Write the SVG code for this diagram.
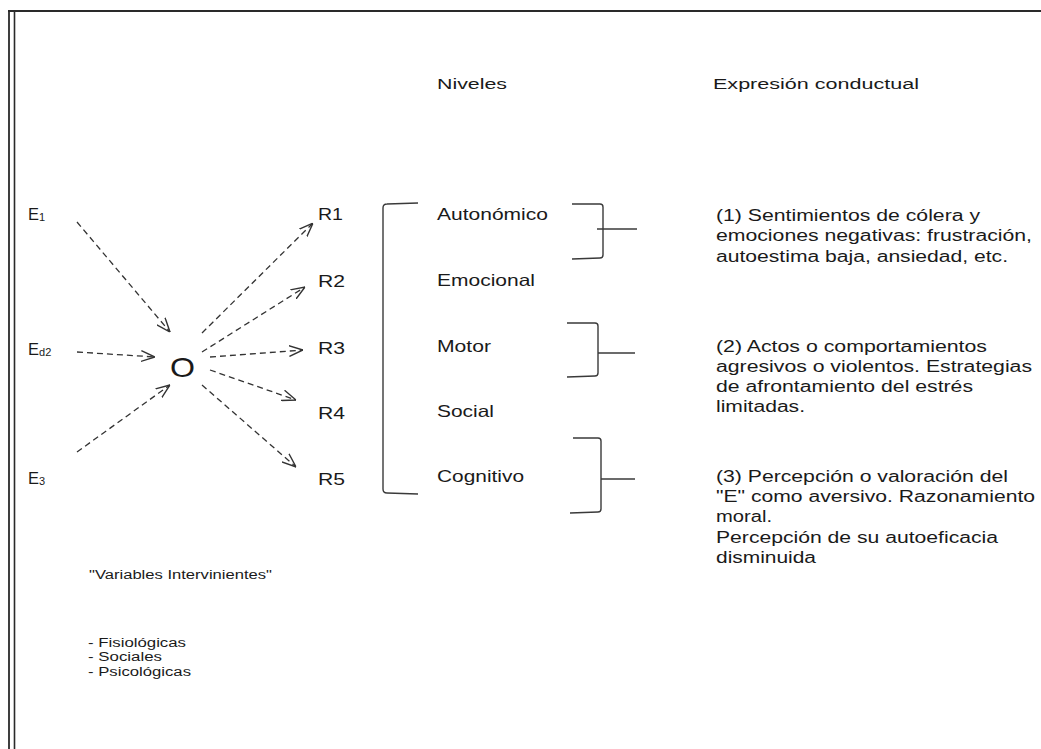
<svg xmlns="http://www.w3.org/2000/svg" width="1041" height="749" viewBox="0 0 1041 749">
<style>
text{font-family:"Liberation Sans",Arial,sans-serif;fill:#1a1a1a}
.frame{stroke:#2a2a2a;fill:none}
.conn{stroke:#333;stroke-width:1.3;stroke-dasharray:6 4;fill:none}
.br{stroke:#3a3a3a;stroke-width:1.4;fill:none}
.lvl{font-size:16.5px}
.lab{font-size:16.5px}
.expr{font-size:16px}
.small{font-size:12.5px}
.hdr{font-size:14px}
</style>
<defs>
<marker id="ah" viewBox="0 0 13 11" refX="13" refY="5.5" markerWidth="14" markerHeight="12" markerUnits="userSpaceOnUse" orient="auto">
<path d="M0,0.5 L13,5.5 L0,10.5" fill="none" stroke="#333" stroke-width="1.3"/>
</marker>
</defs>
<rect width="1041" height="749" fill="#fff"/>
<g id="frame">
<line class="frame" x1="8" y1="11" x2="1041" y2="11" stroke-width="2"/>
<line class="frame" x1="9" y1="10" x2="9" y2="749" stroke-width="1.8"/>
<line class="frame" x1="14.5" y1="12" x2="14.5" y2="749" stroke-width="1.6"/>
</g>
<g id="headers">
<text class="hdr" x="437" y="89" textLength="70" lengthAdjust="spacingAndGlyphs">Niveles</text>
<text class="hdr" x="713" y="89" textLength="206" lengthAdjust="spacingAndGlyphs">Expresión conductual</text>
</g>
<g id="connectors">
<line class="conn" x1="77" y1="222" x2="170" y2="332" marker-end="url(#ah)"/>
<line class="conn" x1="77" y1="352" x2="155" y2="357" marker-end="url(#ah)"/>
<line class="conn" x1="77" y1="452" x2="170" y2="385" marker-end="url(#ah)"/>
<line class="conn" x1="202" y1="333" x2="313" y2="223" marker-end="url(#ah)"/>
<line class="conn" x1="202" y1="352" x2="305" y2="287" marker-end="url(#ah)"/>
<line class="conn" x1="210" y1="357" x2="303" y2="350" marker-end="url(#ah)"/>
<line class="conn" x1="210" y1="370" x2="296" y2="400" marker-end="url(#ah)"/>
<line class="conn" x1="202" y1="385" x2="296" y2="467" marker-end="url(#ah)"/>
</g>
<g id="stimuli">
<g id="E1"><text class="lab" x="28" y="220">E<tspan font-size="11" dy="1">1</tspan></text></g>
<g id="Ed2"><text class="lab" x="28" y="355">E<tspan font-size="11" dy="1">d2</tspan></text></g>
<g id="E3"><text class="lab" x="28" y="484">E<tspan font-size="11" dy="1">3</tspan></text></g>
</g>
<g id="O"><text x="170" y="377" font-size="28" textLength="25" lengthAdjust="spacingAndGlyphs">O</text></g>
<g id="responses">
<g id="R1"><text class="lab" x="318" y="220" textLength="25" lengthAdjust="spacingAndGlyphs">R1</text></g>
<g id="R2"><text class="lab" x="318" y="287" textLength="27" lengthAdjust="spacingAndGlyphs">R2</text></g>
<g id="R3"><text class="lab" x="318" y="354" textLength="27" lengthAdjust="spacingAndGlyphs">R3</text></g>
<g id="R4"><text class="lab" x="318" y="419" textLength="27" lengthAdjust="spacingAndGlyphs">R4</text></g>
<g id="R5"><text class="lab" x="318" y="485" textLength="27" lengthAdjust="spacingAndGlyphs">R5</text></g>
</g>
<g id="levels">
<path class="br" d="M418,203 L387,204 Q383,204 383,208 L383,489 Q383,493 387,493 L418,494"/>
<text class="lvl" x="437" y="220" textLength="111" lengthAdjust="spacingAndGlyphs">Autonómico</text>
<text class="lvl" x="437" y="286" textLength="98" lengthAdjust="spacingAndGlyphs">Emocional</text>
<text class="lvl" x="437" y="352" textLength="54" lengthAdjust="spacingAndGlyphs">Motor</text>
<text class="lvl" x="437" y="417" textLength="57" lengthAdjust="spacingAndGlyphs">Social</text>
<text class="lvl" x="437" y="482" textLength="87" lengthAdjust="spacingAndGlyphs">Cognitivo</text>
</g>
<g id="bracket1">
<path class="br" d="M572,204 L600,204 Q603,204 603,207 L603,255 Q603,258 600,258 L572,259"/>
<line class="br" x1="597" y1="229" x2="637" y2="229"/>
</g>
<g id="bracket2">
<path class="br" d="M567,323 L595,323 Q598,323 598,326 L598,373 Q598,376 595,376 L567,377"/>
<line class="br" x1="598" y1="353" x2="635" y2="353"/>
</g>
<g id="bracket3">
<path class="br" d="M573,438 L598,438 Q601,438 601,441 L601,509 Q601,512 598,512 L570,513"/>
<line class="br" x1="601" y1="479" x2="635" y2="479"/>
</g>
<g id="expr1">
<text class="expr" x="716" y="221" textLength="264" lengthAdjust="spacingAndGlyphs">(1) Sentimientos de cólera y</text>
<text class="expr" x="716" y="241" textLength="316" lengthAdjust="spacingAndGlyphs">emociones negativas: frustración,</text>
<text class="expr" x="716" y="262" textLength="292" lengthAdjust="spacingAndGlyphs">autoestima baja, ansiedad, etc.</text>
</g>
<g id="expr2">
<text class="expr" x="716" y="352" textLength="271" lengthAdjust="spacingAndGlyphs">(2) Actos o comportamientos</text>
<text class="expr" x="716" y="372" textLength="316" lengthAdjust="spacingAndGlyphs">agresivos o violentos. Estrategias</text>
<text class="expr" x="716" y="392" textLength="257" lengthAdjust="spacingAndGlyphs">de afrontamiento del estrés</text>
<text class="expr" x="716" y="412" textLength="89" lengthAdjust="spacingAndGlyphs">limitadas.</text>
</g>
<g id="expr3">
<text class="expr" x="716" y="482" textLength="292" lengthAdjust="spacingAndGlyphs">(3) Percepción o valoración del</text>
<text class="expr" x="716" y="502" textLength="319" lengthAdjust="spacingAndGlyphs">"E" como aversivo. Razonamiento</text>
<text class="expr" x="716" y="522" textLength="56" lengthAdjust="spacingAndGlyphs">moral.</text>
<text class="expr" x="716" y="543" textLength="282" lengthAdjust="spacingAndGlyphs">Percepción de su autoeficacia</text>
<text class="expr" x="716" y="563" textLength="100" lengthAdjust="spacingAndGlyphs">disminuida</text>
</g>
<g id="variables">
<text class="small" x="89" y="579" textLength="183" lengthAdjust="spacingAndGlyphs">"Variables Intervinientes"</text>
<text class="small" x="88" y="647" textLength="98" lengthAdjust="spacingAndGlyphs">- Fisiológicas</text>
<text class="small" x="88" y="661" textLength="74" lengthAdjust="spacingAndGlyphs">- Sociales</text>
<text class="small" x="88" y="676" textLength="103" lengthAdjust="spacingAndGlyphs">- Psicológicas</text>
</g>
</svg>
